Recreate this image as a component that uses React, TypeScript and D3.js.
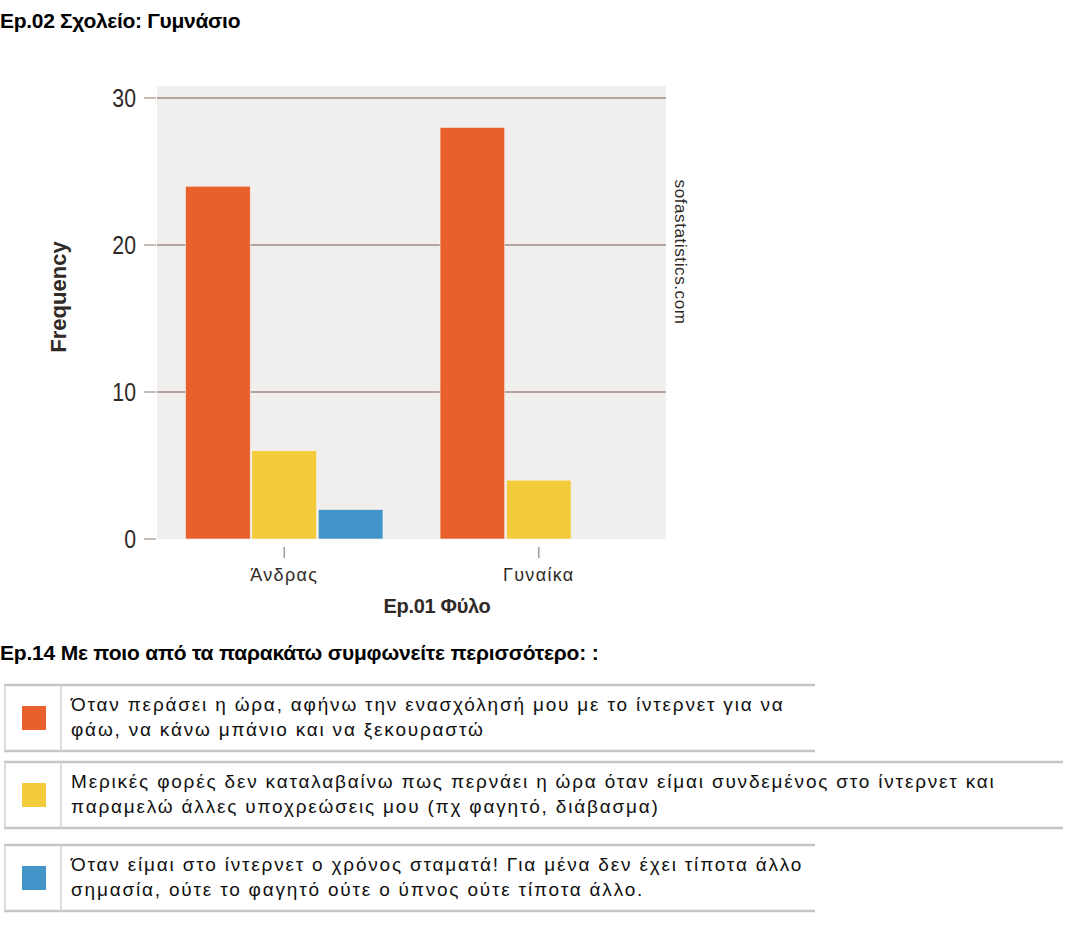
import React from "react";
import * as d3 from "d3";

const title = "Ep.02 Σχολείο: Γυμνάσιο";
const categories = ["Άνδρας", "Γυναίκα"];
const seriesKeys = ["s1", "s2", "s3"];
const seriesValues: number[][] = [
  [24, 6, 2],
  [28, 4, 0],
];
const seriesColors = ["#e8602c", "#f4cb3a", "#4394c8"];
const yTicks = [0, 10, 20, 30];
const xTitle = "Ep.01 Φύλο";
const yTitle = "Frequency";
const watermark = "sofastatistics.com";
const legendTitle = "Ep.14 Με ποιο από τα παρακάτω συμφωνείτε περισσότερο: :";
const legendLabels: string[][] = [
  ["Όταν περάσει η ώρα, αφήνω την ενασχόλησή μου με το ίντερνετ για να", "φάω, να κάνω μπάνιο και να ξεκουραστώ"],
  ["Μερικές φορές δεν καταλαβαίνω πως περνάει η ώρα όταν είμαι συνδεμένος στο ίντερνετ και", "παραμελώ άλλες υποχρεώσεις μου (πχ φαγητό, διάβασμα)"],
  ["Όταν είμαι στο ίντερνετ ο χρόνος σταματά! Για μένα δεν έχει τίποτα άλλο", "σημασία, ούτε το φαγητό ούτε ο ύπνος ούτε τίποτα άλλο."],
];
const legendRowWidths = [811, 1059, 811];

const FONT = "'Liberation Sans', Arial, sans-serif";

export default function App() {
  const W = 1075, H = 931;
  const plotL = 157, plotR = 666, plotT = 86, plotB = 539;
  const y = d3.scaleLinear().domain([0, 30]).range([539, 98]);
  const x0 = d3.scaleBand().domain(categories).range([plotL, plotR]).padding(0);
  const x1 = d3.scaleBand().domain(seriesKeys).range([0, x0.bandwidth()]).paddingInner(0.025).paddingOuter(0.43);
  const textCol = "#302a27";

  const rowTops = [685, 762, 845];
  const rowH = 66;
  const border = "#c6c6c6";

  return (
    <svg width={W} height={H} style={{ position: "absolute", left: 0, top: 0, background: "#fff" }} fontFamily={FONT}>
      <text x={0} y={28} fontSize={21} fontWeight="bold" fill="#000" letterSpacing={-0.3}>{title}</text>

      <rect x={plotL} y={plotT} width={plotR - plotL} height={plotB - plotT} fill="#f1efee" />
      {yTicks.map((t) => (
        <g key={t}>
          {t > 0 && <line x1={plotL} x2={plotR} y1={y(t)} y2={y(t)} stroke="#b4a49c" strokeWidth={2} />}
          <line x1={144} x2={156} y1={y(t)} y2={y(t)} stroke="#b4a49c" strokeWidth={1.5} />
          <text transform={`translate(136,${y(t)}) scale(0.85,1)`} dy="0.36em" textAnchor="end" fontSize={25} fill={textCol}>{t}</text>
        </g>
      ))}

      {categories.map((c, ci) => (
        <g key={c} transform={`translate(${x0(c)},0)`}>
          {seriesKeys.map((k, si) => {
            const v = seriesValues[ci][si];
            if (!v) return null;
            return (
              <rect key={k} x={x1(k)} y={y(v)} width={x1.bandwidth()} height={y(0) - y(v)}
                fill={seriesColors[si]} stroke="#f6f2ee" strokeWidth={0.6} />
            );
          })}
        </g>
      ))}

      {categories.map((c) => {
        const cx = (x0(c) as number) + x0.bandwidth() / 2;
        return (
          <g key={c}>
            <line x1={cx} x2={cx} y1={547} y2={558} stroke="#a89c96" strokeWidth={1.5} />
            <text x={cx} y={581} textAnchor="middle" fontSize={18} fill={textCol} letterSpacing={1.3}>{c}</text>
          </g>
        );
      })}

      <text x={437} y={613} textAnchor="middle" fontSize={20} fontWeight="bold" fill={textCol} letterSpacing={-0.3}>{xTitle}</text>
      <text transform={`translate(66,297) rotate(-90)`} textAnchor="middle" fontSize={22} fontWeight="bold" fill={textCol}>{yTitle}</text>
      <text transform={`translate(675,252) rotate(90)`} textAnchor="middle" fontSize={17} fill={textCol} letterSpacing={0.6}>{watermark}</text>

      <text x={0} y={660} fontSize={21} fontWeight="bold" fill="#000" letterSpacing={-0.2}>{legendTitle}</text>

      {legendLabels.map((lines, i) => {
        const top = rowTops[i];
        const w = legendRowWidths[i];
        return (
          <g key={i}>
            <line x1={4} x2={4 + w} y1={top} y2={top} stroke={border} strokeWidth={2.5} />
            <line x1={4} x2={4 + w} y1={top + rowH} y2={top + rowH} stroke={border} strokeWidth={2.5} />
            <line x1={5} x2={5} y1={top} y2={top + rowH} stroke="#d2d2d2" strokeWidth={1.5} />
            <line x1={61} x2={61} y1={top} y2={top + rowH} stroke="#d2d2d2" strokeWidth={1.5} />
            <rect x={22} y={top + 21} width={24} height={24} fill={seriesColors[i]} />
            {lines.map((ln, li) => (
              <text key={li} x={71} y={top + 26 + li * 25} fontSize={19} fill="#111" letterSpacing={1.8}>{ln}</text>
            ))}
          </g>
        );
      })}
    </svg>
  );
}
